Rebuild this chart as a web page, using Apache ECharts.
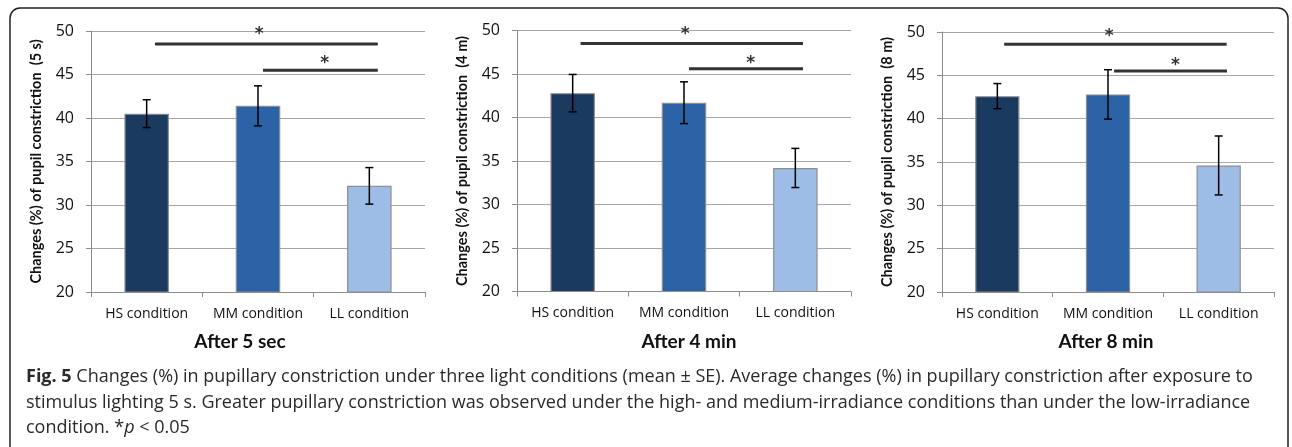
<!DOCTYPE html>
<html>
<head>
<meta charset="utf-8">
<script src="https://cdn.jsdelivr.net/npm/echarts@6/dist/echarts.min.js"></script>
<style>
html,body{margin:0;padding:0;background:#fff;}
#chart{width:1292px;height:447px;}
</style>
</head>
<body>
<div id="chart"></div>
<script>
// ---- data ----
const categories = ['HS condition', 'MM condition', 'LL condition'];
const panelTitles = ['After 5 sec', 'After 4 min', 'After 8 min'];
const yNames = [
  'Changes (%) of pupil constriction  (5 s)',
  'Changes (%) of pupil constriction  (4 m)',
  'Changes (%) of pupil constriction  (8 m)'
];
const yTicks = [20, 25, 30, 35, 40, 45, 50];
const means5s = [40.5, 41.4, 32.2];
const se5s = [1.6, 2.3, 2.1];
const means4m = [42.8, 41.7, 34.2];
const se4m = [2.15, 2.4, 2.25];
const means8m = [42.6, 42.8, 34.6];
const se8m = [1.45, 2.85, 3.4];
// significance brackets: [start, end, level] in category units (0..3)
const sig5s = [[0.575, 2.576, 48.5], [1.545, 2.576, 45.5]];
const sig4m = [[0.571, 2.569, 48.5], [1.545, 2.569, 45.6]];
const sig8m = [[0.562, 2.572, 48.6], [1.555, 2.575, 45.5]];
// asterisk marks: [x, level]
const stars5s = [[1.51, 49.9], [2.1, 46.6]];
const stars4m = [[1.51, 49.9], [2.1, 46.6]];
const stars8m = [[1.51, 49.8], [2.11, 46.5]];
const captionLines = [
  'Changes (%) in pupillary constriction under three light conditions (mean \u00b1 SE). Average changes (%) in pupillary constriction after exposure to',
  'stimulus lighting 5 s. Greater pupillary constriction was observed under the high- and medium-irradiance conditions than under the low-irradiance',
  'condition. '
];

// ---- layout/styles ----
const barColors = ['#1b3a5f', '#2c63a7', '#9dbde6'];
const grids = [
  {left: 91, width: 334, top: 31, height: 261},
  {left: 517, width: 334, top: 30.5, height: 261},
  {left: 942, width: 332, top: 32, height: 260}
];
const titleX = [240, 689, 1106];
const panels = [
  {means: means5s, se: se5s, sig: sig5s, stars: stars5s},
  {means: means4m, se: se4m, sig: sig4m, stars: stars4m},
  {means: means8m, se: se8m, sig: sig8m, stars: stars8m}
];

const chart = echarts.init(document.getElementById('chart'), null, {renderer: 'canvas'});

const option = {
  animation: false,
  backgroundColor: '#fff',
  grid: grids.map(g => ({left: g.left, width: g.width, top: g.top, height: g.height, containLabel: false})),
  xAxis: [],
  yAxis: [],
  series: [],
  graphic: []
};

panels.forEach((p, i) => {
  option.xAxis.push({
    type: 'category', gridIndex: i, data: categories, boundaryGap: true,
    axisLine: {show: true, lineStyle: {color: '#8c8c8c', width: 1}},
    axisTick: {show: true, length: 5, alignWithLabel: false, lineStyle: {color: '#8c8c8c'}},
    axisLabel: {interval: 0, hideOverlap: false, fontFamily: 'Open Sans', fontSize: 14, color: '#111', margin: 15},
    splitLine: {show: false}
  });
  option.xAxis.push({
    type: 'value', gridIndex: i, min: 0, max: 3, show: false
  });
  option.yAxis.push({
    type: 'value', gridIndex: i, min: 20, max: 50, interval: 5,
    name: yNames[i], nameLocation: 'middle', nameGap: 47, nameRotate: 90,
    nameTextStyle: {fontFamily: 'Lato', fontWeight: 'bold', fontSize: 14.5, color: '#111'},
    axisLine: {show: true, lineStyle: {color: '#8c8c8c', width: 1}},
    axisTick: {show: true, length: 5, lineStyle: {color: '#8c8c8c'}},
    axisLabel: {fontFamily: 'Open Sans', fontSize: 16, color: '#111', margin: 17,
      formatter: v => (yTicks.indexOf(v) >= 0 ? String(v) : '')},
    splitLine: {show: true, lineStyle: {color: '#a6a6a6', width: 1.2}}
  });
  option.series.push({
    type: 'bar', xAxisIndex: 2 * i, yAxisIndex: i, barWidth: '40%',
    data: p.means.map((v, k) => ({value: v, itemStyle: {color: barColors[k]}})),
    itemStyle: {borderColor: '#8e8e8e', borderWidth: 1.2},
    z: 2
  });
  option.series.push({
    type: 'custom', xAxisIndex: 2 * i, yAxisIndex: i, z: 5,
    data: p.means.map((v, k) => [k, v - p.se[k], v + p.se[k]]),
    renderItem: function (params, api) {
      const lo = api.coord([api.value(0), api.value(1)]);
      const hi = api.coord([api.value(0), api.value(2)]);
      const hw = 4;
      const st = {stroke: '#000', lineWidth: 1.5};
      return {type: 'group', children: [
        {type: 'line', shape: {x1: lo[0], y1: lo[1], x2: hi[0], y2: hi[1]}, style: st},
        {type: 'line', shape: {x1: lo[0] - hw, y1: lo[1], x2: lo[0] + hw, y2: lo[1]}, style: st},
        {type: 'line', shape: {x1: hi[0] - hw, y1: hi[1], x2: hi[0] + hw, y2: hi[1]}, style: st}
      ]};
    }
  });
  p.sig.forEach((s) => {
    option.series.push({
      type: 'line', xAxisIndex: 2 * i + 1, yAxisIndex: i, z: 6,
      data: [[s[0], s[2]], [s[1], s[2]]], symbol: 'none', silent: true,
      lineStyle: {color: '#333', width: 3, cap: 'butt'}
    });
  });
  option.series.push({
    type: 'custom', xAxisIndex: 2 * i + 1, yAxisIndex: i, z: 7, silent: true,
    data: p.stars,
    renderItem: function (params, api) {
      const c = api.coord([api.value(0), api.value(1)]);
      return {
        type: 'text', x: c[0], y: c[1] + 3,
        style: {text: '*', align: 'center', verticalAlign: 'middle',
          font: 'bold 17px "DejaVu Sans"', fill: '#333'}
      };
    }
  });
  option.graphic.push({
    type: 'text', x: titleX[i], y: 342,
    style: {text: panelTitles[i], align: 'center', verticalAlign: 'middle',
      font: 'bold 19px Lato', fill: '#111'}
  });
});

// border
option.graphic.push({
  type: 'rect', shape: {x: 10, y: 8, width: 1278, height: 470, r: 10},
  style: {fill: 'none', stroke: '#222', lineWidth: 1.5}, z: -1
});
// caption
const capFont = '18px "Open Sans"';
option.graphic.push({
  type: 'text', x: 26, y: 377,
  style: {
    text: '{b|Fig. 5} ' + captionLines[0],
    verticalAlign: 'middle', font: capFont, fill: '#2a2a2a',
    rich: {b: {font: 'bold 18px "Open Sans"', fill: '#2a2a2a'}}
  }
});
option.graphic.push({
  type: 'text', x: 26, y: 402.5,
  style: {text: captionLines[1], verticalAlign: 'middle', font: capFont, fill: '#2a2a2a'}
});
option.graphic.push({
  type: 'text', x: 26, y: 427.5,
  style: {
    text: captionLines[2] + '*{i|p} < 0.05',
    verticalAlign: 'middle', font: capFont, fill: '#2a2a2a',
    rich: {i: {font: 'italic 18px "Open Sans"', fill: '#2a2a2a'}}
  }
});

chart.setOption(option);
</script>
</body>
</html>
